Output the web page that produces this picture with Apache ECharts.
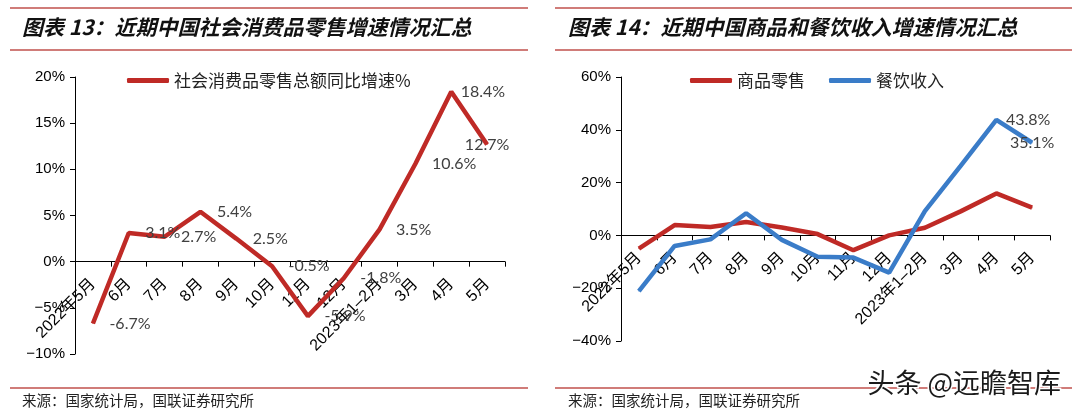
<!DOCTYPE html>
<html><head><meta charset="utf-8">
<script src="https://cdn.jsdelivr.net/npm/echarts@6/dist/echarts.min.js"></script>
<style>html,body{margin:0;padding:0;background:#fff}#c{width:1080px;height:419px}</style>
</head><body><div id="c"></div>
<script>
const categories = ['2022年5月','6月','7月','8月','9月','10月','11月','12月','2023年1–2月','3月','4月','5月'];
const retailTotal = [-6.7, 3.1, 2.7, 5.4, 2.5, -0.5, -5.9, -1.8, 3.5, 10.6, 18.4, 12.7];
const goodsRetail = [-5.0, 3.9, 3.2, 5.1, 3.0, 0.5, -5.6, 0.0, 2.9, 9.1, 15.9, 10.5];
const catering = [-21.1, -4.0, -1.5, 8.4, -1.7, -8.1, -8.4, -14.1, 9.2, 26.3, 43.8, 35.1];
const cateringLabelIdx = [10, 11];
const leftTicks = {min: -10, max: 20, interval: 5};
const rightTicks = {min: -40, max: 60, interval: 20};
const title1 = '图表 13：近期中国社会消费品零售增速情况汇总';
const title2 = '图表 14：近期中国商品和餐饮收入增速情况汇总';
const source = '来源：国家统计局，国联证券研究所';
const legend1 = '社会消费品零售总额同比增速%';
const legend2 = ['商品零售', '餐饮收入'];

const RED = '#BF2A26', BLUE = '#3A7CC8', RULE = '#C0504D';
const numFont = 'Liberation Sans, Arial, Noto Sans CJK SC';
const pct = v => (v < 0 ? '−' + Math.abs(v) : v) + '%';
const lblStyle = {color: '#404040', fontSize: 16, fontFamily: 'Lato, Liberation Sans'};

const chart = echarts.init(document.getElementById('c'));
const grids = [
  {left: 75, right: 575, top: 77, bottom: 65, outerBoundsMode: 'none', containLabel: false},
  {left: 621, right: 30, top: 77, bottom: 78, outerBoundsMode: 'none', containLabel: false}
];

function xAxis(gi) {
  return {
    type: 'category', gridIndex: gi, data: categories, boundaryGap: true, position: 'bottom', offset: 0,
    axisLine: {onZero: false, lineStyle: {color: '#000', width: 1}},
    axisTick: {show: true, length: 5, lineStyle: {color: '#000'}},
    axisLabel: {rotate: 45, interval: 0, margin: 20, fontSize: 16, color: '#000', fontFamily: numFont, hideOverlap: false}
  };
}
function yAxis(gi, t) {
  return {
    type: 'value', gridIndex: gi, min: t.min, max: t.max, interval: t.interval,
    splitLine: {show: false},
    axisLine: {show: true, lineStyle: {color: '#000', width: 1}},
    axisTick: {show: true, length: 5, lineStyle: {color: '#000'}},
    axisLabel: {formatter: pct, fontSize: 15, color: '#000', fontFamily: numFont, margin: 10}
  };
}

const leftData = retailTotal.map((v, i) => {
  const item = {value: v};
  if (i === 10) item.label = {distance: 9};
  if (i === retailTotal.length - 1) item.label = {position: 'inside'};
  return item;
});
const cateringData = catering.map((v, i) => {
  const item = {value: v};
  if (cateringLabelIdx.includes(i)) {
    item.label = {show: true, position: i === catering.length - 1 ? 'inside' : 'right', distance: 9,
      formatter: p => p.value.toFixed(1) + '%', ...lblStyle};
  }
  return item;
});

const rules = [];
function hline(x1, x2, y) {
  rules.push({type: 'line', shape: {x1, y1: y, x2, y2: y}, style: {stroke: RULE, lineWidth: 1.5}, silent: true});
}
hline(10, 528, 8); hline(10, 528, 50); hline(10, 528, 388);
hline(555, 1072, 8); hline(555, 1072, 50); hline(555, 1072, 388);

const titleFont = {fontSize: 21, fontWeight: 'bold', fontStyle: 'italic', fill: '#111', fontFamily: 'Noto Sans CJK SC'};
const srcFont = {fontSize: 14.5, fill: '#222', fontFamily: 'Noto Sans CJK SC'};

chart.setOption({
  backgroundColor: '#fff',
  animation: false,
  grid: grids,
  legend: [
    {data: [legend1], left: 122, top: 67, itemWidth: 42, itemHeight: 5, itemGap: 24, icon: 'roundRect',
      textStyle: {fontSize: 17, color: '#222', fontFamily: 'Noto Sans CJK SC'}},
    {data: legend2, left: 685, top: 67, itemWidth: 42, itemHeight: 5, itemGap: 24, icon: 'roundRect',
      textStyle: {fontSize: 17, color: '#222', fontFamily: 'Noto Sans CJK SC'}}
  ],
  xAxis: [xAxis(0), xAxis(1)],
  yAxis: [yAxis(0, leftTicks), yAxis(1, rightTicks)],
  series: [
    {name: legend1, type: 'line', xAxisIndex: 0, yAxisIndex: 0, data: leftData,
      symbol: 'circle', symbolSize: 1, itemStyle: {color: RED}, lineStyle: {color: RED, width: 4.5},
      label: {show: true, position: 'right', distance: 16, formatter: p => p.value.toFixed(1) + '%', ...lblStyle}},
    {name: legend2[0], type: 'line', xAxisIndex: 1, yAxisIndex: 1, data: goodsRetail,
      symbol: 'circle', symbolSize: 1, itemStyle: {color: RED}, lineStyle: {color: RED, width: 4.5}},
    {name: legend2[1], type: 'line', xAxisIndex: 1, yAxisIndex: 1, data: cateringData,
      symbol: 'circle', symbolSize: 1, itemStyle: {color: BLUE}, lineStyle: {color: BLUE, width: 4.5}}
  ],
  graphic: rules.concat([
    {type: 'text', left: 22, top: 17, style: {text: title1, ...titleFont}},
    {type: 'text', left: 568, top: 17, style: {text: title2, ...titleFont}},
    {type: 'text', left: 22, top: 393, style: {text: source, ...srcFont}},
    {type: 'text', left: 568, top: 393, style: {text: source, ...srcFont}},
    {type: 'text', left: 866, top: 368, z: 100, style: {text: '头条 @远瞻智库', fontSize: 27, fill: '#1a1a1a',
      stroke: '#fff', lineWidth: 3, fontFamily: 'Noto Sans CJK SC'}}
  ])
});

// move each category axis (line, ticks, labels) up to the zero of its value axis
const H = chart.getHeight();
const offsets = grids.map((g, gi) => {
  const zeroY = chart.convertToPixel({yAxisIndex: gi}, 0);
  return zeroY - (H - g.bottom);
});
chart.setOption({xAxis: offsets.map(o => ({offset: o}))});
</script></body></html>
